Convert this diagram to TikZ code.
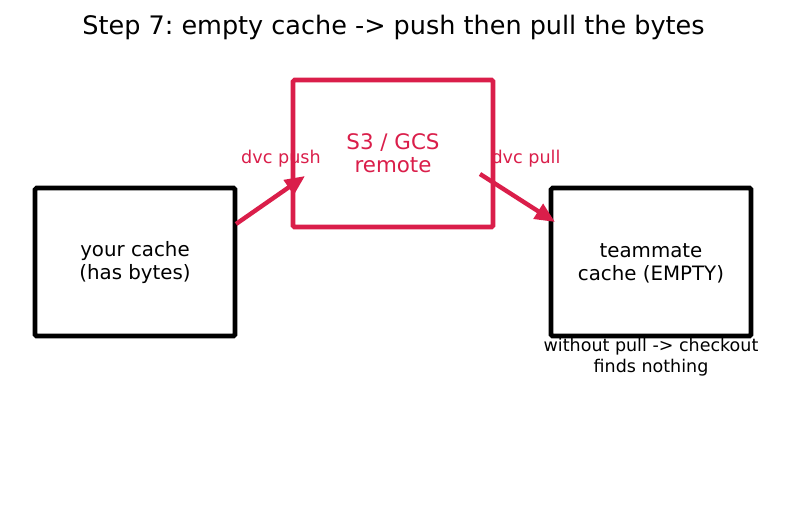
\documentclass[tikz,border=0pt]{standalone}
\usepackage{fontspec}
\setmainfont{DejaVu Sans}
\usetikzlibrary{arrows.meta}
\definecolor{accent}{RGB}{218,30,74}
\frenchspacing
\begin{document}
\begin{tikzpicture}[x=1pt,y=-1pt,
  box/.style={draw=black,line width=4.6pt,rounded corners=1.5pt,minimum width=200pt,minimum height=148pt,inner sep=0pt,align=center,font=\fontsize{19.8}{23}\selectfont},
  conn/.style={draw=accent,line width=4.4pt,-{Triangle[length=20pt,width=17pt]}},
  lab/.style={text=accent,font=\fontsize{17.6}{20}\selectfont}]
\useasboundingbox (0,0) rectangle (787,512);
\node[font=\fontsize{25.5}{29}\selectfont] (title) at (393.5,27.5) {Step 7: empty cache -> push then pull the bytes};
\node[box] (your) at (135,262) {\strut your cache\\(has bytes)};
\node[box,draw=accent,text=accent,minimum height=147pt,font=\fontsize{21.4}{23}\selectfont] (remote) at (393,153.5) {S3 / GCS\\remote};
\node[box] (mate) at (651,262) {\strut teammate\\cache (EMPTY)};
\coordinate (ps) at (236,224);
\coordinate (pe) at (305,176);
\coordinate (qs) at (480,174);
\coordinate (qe) at (555,222);
\draw[conn] (ps) -- (pe);
\draw[conn] (qs) -- (qe);
\node[lab] (pushl) at (281,158.5) {dvc push};
\node[lab] (pulll) at (526,158.5) {dvc pull};
\node[align=center,font=\fontsize{17.5}{21}\selectfont] (note) at (651,357.5) {without pull -> checkout\\finds nothing};
\end{tikzpicture}
\end{document}
